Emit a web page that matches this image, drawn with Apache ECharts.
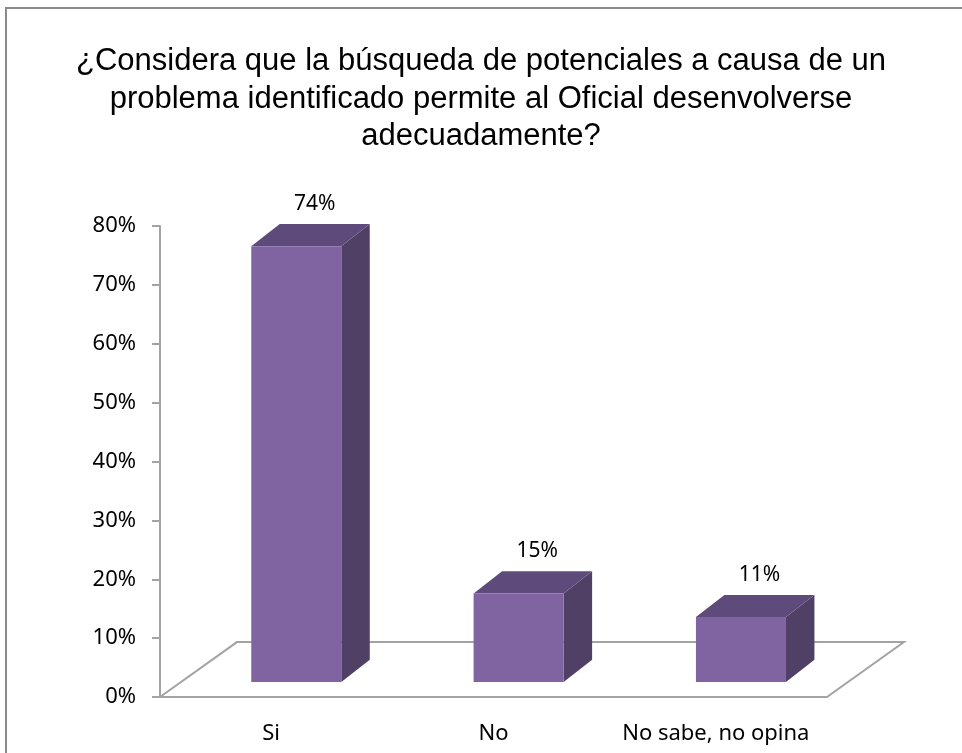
<!DOCTYPE html>
<html>
<head>
<meta charset="utf-8">
<script src="https://cdn.jsdelivr.net/npm/echarts@6/dist/echarts.min.js"></script>
<style>
  html, body { margin: 0; padding: 0; background: #fff; }
  #chart { width: 962px; height: 753px; }
</style>
</head>
<body>
<div id="chart"></div>
<script>
const categories = ['Si', 'No', 'No sabe, no opina'];
const percentages = [74, 15, 11];
const titleText = '¿Considera que la búsqueda de potenciales a causa de un\nproblema identificado permite al Oficial desenvolverse\nadecuadamente?';

const frontColor = '#8064a2';
const topColor = '#5f4b7b';
const sideColor = '#514066';
const lineGray = '#a3a3a3';

// 3d bar drawn from the category band
function renderBar(params, api) {
  let i = api.value(0);
  let v = api.value(1);
  let base = api.coord([i, 0]);
  let top = api.coord([i, v]);
  let band = api.size([1, 0])[0];
  let w = band * 0.405;
  let dx = band * 0.128;
  let dy = band * 0.1;
  let shift = band * 0.113;
  let lift = band * 0.068;
  let x0 = base[0] + shift - w / 2;
  let x1 = x0 + w;
  let yb = base[1] - lift;
  let yt = top[1] - lift;
  return {
    type: 'group',
    children: [
      {
        type: 'polygon',
        shape: { points: [[x1, yb], [x1 + dx, yb - dy], [x1 + dx, yt - dy], [x1, yt]] },
        style: { fill: sideColor }
      },
      {
        type: 'polygon',
        shape: { points: [[x0, yt], [x1, yt], [x1 + dx, yt - dy], [x0 + dx, yt - dy]] },
        style: { fill: topColor }
      },
      {
        type: 'rect',
        shape: { x: x0, y: yt, width: w, height: yb - yt },
        style: { fill: frontColor }
      },
      {
        type: 'text',
        style: {
          text: v + '%',
          x: (x0 + x1) / 2 + dx * 0.65,
          y: yt - dy - 20,
          align: 'center',
          verticalAlign: 'middle',
          fontFamily: 'Noto Sans',
          fontSize: 21,
          fill: '#000'
        }
      }
    ]
  };
}

// floor of the 3d plot
function renderFloor(params, api) {
  let band = api.size([1, 0])[0];
  let first = api.coord([0, 0]);
  let last = api.coord([categories.length - 1, 0]);
  let xl = first[0] - band / 2;
  let xr = last[0] + band / 2;
  let y = first[1];
  let dx = band * 0.346;
  let dy = band * 0.247;
  return {
    type: 'polyline',
    shape: { points: [[xl, y], [xl + dx, y - dy], [xr + dx, y - dy], [xr, y]] },
    style: { stroke: lineGray, lineWidth: 2, fill: 'none' }
  };
}

var dom = document.getElementById('chart');
var myChart = echarts.init(dom, null, { renderer: 'canvas' });
var option = {
  backgroundColor: '#fff',
  animation: false,
  title: {
    text: titleText,
    left: 'center',
    top: 38,
    textStyle: {
      fontFamily: 'Liberation Sans',
      fontSize: 31,
      fontWeight: 'normal',
      color: '#000',
      lineHeight: 37.5
    }
  },
  graphic: [
    {
      type: 'rect',
      shape: { x: 6, y: 8, width: 1000, height: 800 },
      style: { fill: 'none', stroke: '#8a8a8a', lineWidth: 2 },
      silent: true
    }
  ],
  grid: { left: 160, right: 135, top: 226, bottom: 56 },
  xAxis: {
    type: 'category',
    data: categories,
    axisLine: { lineStyle: { color: lineGray, width: 2 } },
    axisTick: { length: 7, lineStyle: { color: lineGray, width: 2 } },
    axisLabel: { interval: 0, margin: 26, fontFamily: 'Noto Sans', fontSize: 22, color: '#000' }
  },
  yAxis: {
    type: 'value',
    min: 0,
    max: 80,
    interval: 10,
    axisLine: { show: true, lineStyle: { color: lineGray, width: 2 } },
    axisTick: { show: true, length: 8, lineStyle: { color: lineGray, width: 2 } },
    splitLine: { show: false },
    axisLabel: { formatter: '{value}%', margin: 24, fontFamily: 'Noto Sans', fontSize: 22, color: '#000' }
  },
  series: [
    {
      type: 'custom',
      renderItem: renderFloor,
      data: [[0, 0]],
      z: 1,
      silent: true
    },
    {
      type: 'custom',
      renderItem: renderBar,
      data: categories.map((c, i) => [i, percentages[i]]),
      z: 2
    }
  ]
};
myChart.setOption(option);
</script>
</body>
</html>
